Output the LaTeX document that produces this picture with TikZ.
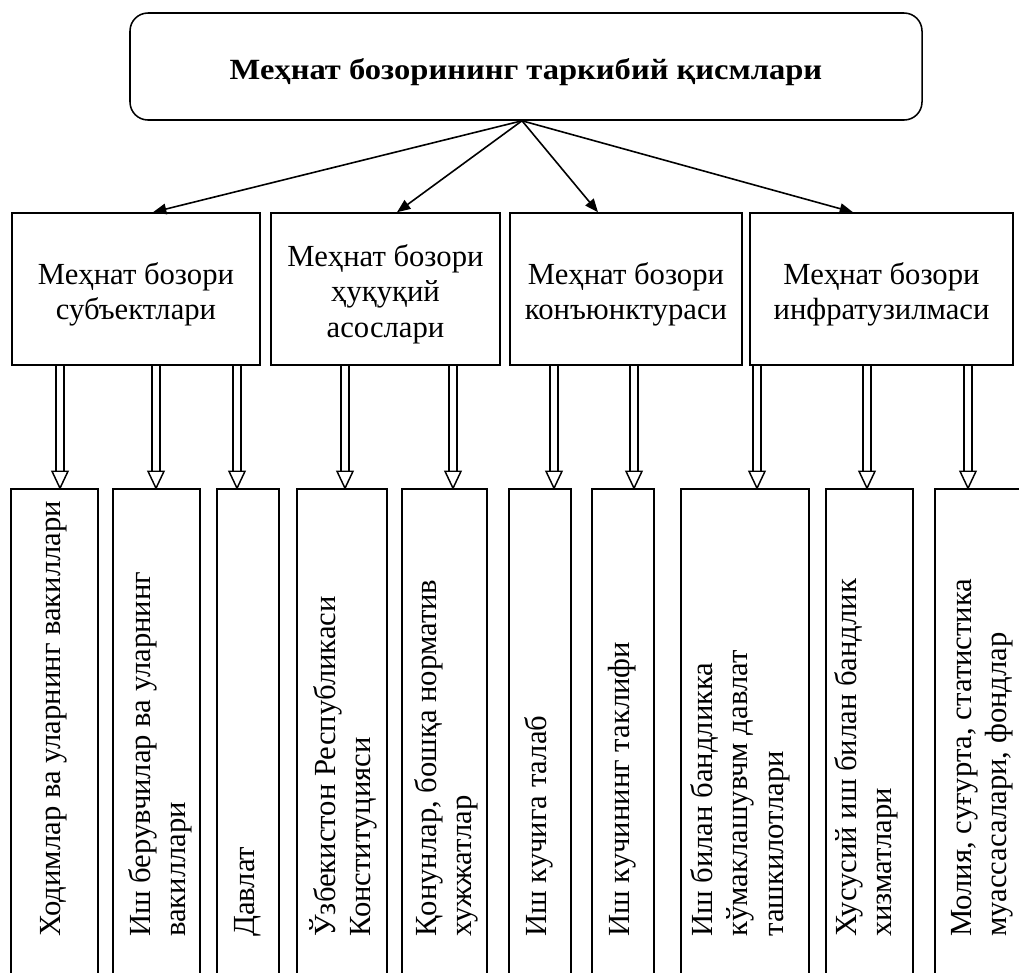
\documentclass[tikz,border=0pt]{standalone}
\usepackage{fontspec}
\setmainfont{Liberation Serif}
\newfontfamily\titlefont{Liberation Serif Bold}[FakeStretch=1.11]
\usetikzlibrary{arrows.meta,calc}
\def\u{0.75pt}
\newcommand\dbarrow[3]{%
  \coordinate (ax) at (#1,0);
  \draw[dline] ($(ax |- #2.south)+(-4,0)$) -- ($(ax |- #3.north)+(-4,-17)$)
               ($(ax |- #2.south)+(4,0)$) -- ($(ax |- #3.north)+(4,-17)$);
  \draw[dline] ($(ax |- #3.north)+(-8,-17)$) -- ($(ax |- #3.north)+(8,-17)$) -- (ax |- #3.north) -- cycle;
}
\begin{document}
\begin{tikzpicture}[x=0.75pt,y=-0.75pt,
  txt/.style={font=\fontsize{23}{26.5}\selectfont},
  box/.style={draw, line width=1.15pt, inner sep=0pt},
  mtxt/.style={align=center, txt, inner sep=0pt, yshift=-5*\u},
  mbox/.style={box, minimum height=152*\u},
  bbox/.style={box, minimum height=496*\u},
  rtxt/.style={rotate=90, anchor=west, align=left, inner sep=0pt, txt},
  toparr/.style={line width=1.2pt, -{Triangle[length=10pt,width=8pt]}},
  dline/.style={line width=1.1pt, line join=miter}
]
\path[use as bounding box] (0,0) rectangle (1019,972);
\clip (0,0) rectangle (1019,972);

% top box
\node[box, rounded corners=18*\u, minimum width=792*\u, minimum height=107*\u,
      label={[inner sep=0pt, yshift=-4.5pt, font=\titlefont\fontsize{22}{25}\selectfont]center:{Меҳнат бозорининг таркибий қисмлари}}] (top) at (526,66.5) {};

% middle boxes
\node[mbox, minimum width=248*\u, label={[mtxt]center:{Меҳнат бозори\\субъектлари}}] (m1) at (136,289) {};
\node[mbox, minimum width=229*\u, label={[mtxt]center:{Меҳнат бозори\\ҳуқуқий\\асослари}}] (m2) at (385.5,289) {};
\node[mbox, minimum width=232*\u, label={[mtxt]center:{Меҳнат бозори\\конъюнктураси}}] (m3) at (626,289) {};
\node[mbox, minimum width=263*\u, label={[mtxt]center:{Меҳнат бозори\\инфратузилмаси}}] (m4) at (881.5,289) {};

% arrows from top
\coordinate (o) at ($(top.south)+(-4,0)$);
\draw[toparr] (o) -- ($(m1.north)+(17,0)$);
\draw[toparr] (o) -- ($(m2.north)+(11.5,0)$);
\draw[toparr] (o) -- ($(m3.north)+(-28,0)$);
\draw[toparr] (o) -- ($(m4.north)+(-28.5,0)$);

% bottom boxes
\node[bbox, minimum width=87*\u]  (b1)  at (54.5,737) {};
\node[bbox, minimum width=87*\u]  (b2)  at (156.5,737) {};
\node[bbox, minimum width=62*\u]  (b3)  at (248,737) {};
\node[bbox, minimum width=90*\u]  (b4)  at (342,737) {};
\node[bbox, minimum width=85*\u]  (b5)  at (444.5,737) {};
\node[bbox, minimum width=62*\u]  (b6)  at (540,737) {};
\node[bbox, minimum width=62*\u]  (b7)  at (623,737) {};
\node[bbox, minimum width=128*\u] (b8)  at (745,737) {};
\node[bbox, minimum width=87*\u]  (b9)  at (869.5,737) {};
\node[bbox, minimum width=95*\u]  (b10) at (982.5,737) {};

% rotated texts
\node[rtxt] (t1)  at (54,937)  {Ходимлар ва уларнинг вакиллари};
\node[rtxt] (t2)  at (160,937) {Иш берувчилар ва уларнинг\\вакиллари};
\node[rtxt] (t3)  at (248,937) {Давлат};
\node[rtxt] (t4)  at (343,937) {Ўзбекистон Республикаси\\Конституцияси};
\node[rtxt] (t5)  at (446,937) {Қонунлар, бошқа норматив\\хужжатлар};
\node[rtxt] (t6)  at (539,937) {Иш кучига талаб};
\node[rtxt] (t7)  at (622.5,937) {Иш кучининг таклифи};
\node[rtxt] (t8)  at (740,937) {Иш билан бандликка\\кўмаклашувчм давлат\\ташкилотлари};
\node[rtxt] (t9)  at (866,937) {Хусусий иш билан бандлик\\хизматлари};
\node[rtxt] (t10) at (982,937) {Молия, суғурта, статистика\\муассасалари, фондлар};

% double arrows
\dbarrow{60}{m1}{b1}
\dbarrow{156}{m1}{b2}
\dbarrow{237}{m1}{b3}
\dbarrow{345}{m2}{b4}
\dbarrow{453}{m2}{b5}
\dbarrow{554}{m3}{b6}
\dbarrow{634}{m3}{b7}
\dbarrow{757}{m4}{b8}
\dbarrow{867}{m4}{b9}
\dbarrow{968}{m4}{b10}
\end{tikzpicture}
\end{document}
